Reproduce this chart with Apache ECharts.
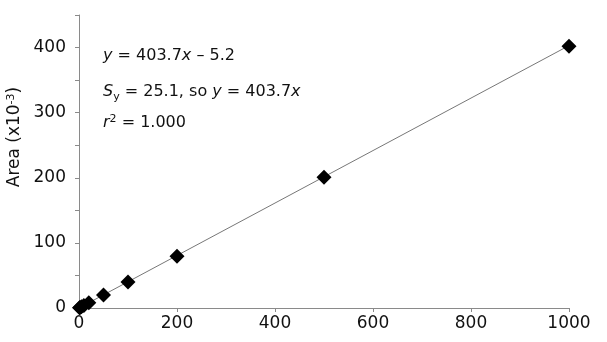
<!DOCTYPE html>
<html>
<head>
<meta charset="utf-8">
<script src="https://cdn.jsdelivr.net/npm/echarts@6/dist/echarts.min.js"></script>
<style>html,body{margin:0;padding:0;background:#fff}#c{width:607px;height:342px}</style>
</head>
<body>
<div id="c"></div>
<script>
var xValues = [1, 2, 5, 10, 20, 50, 100, 200, 500, 1000];
var yValues = [0.4, 0.8, 2, 4, 8, 20, 40, 79.5, 201, 402];
var fitLine = [[0, 0], [1000, 403]];
var xTicks = [0, 200, 400, 600, 800, 1000];
var yTicks = [0, 100, 200, 300, 400];

var FONT = 'DejaVu Sans';
var chart = echarts.init(document.getElementById('c'));
var pts = xValues.map(function (x, i) { return [x, yValues[i]]; });
chart.setOption({
  animation: false,
  backgroundColor: '#fff',
  grid: { left: 79, right: 38, top: 15, bottom: 34, containLabel: false },
  xAxis: {
    type: 'value', min: 0, max: 1000, interval: 200,
    axisLine: { show: true, lineStyle: { color: '#8a8a8a', width: 1 } },
    axisTick: { show: true, length: 4, inside: false, lineStyle: { color: '#8a8a8a' } },
    splitLine: { show: false },
    axisLabel: { color: '#111', fontFamily: FONT, fontSize: 17, margin: 7,
      formatter: function (v) { return xTicks.indexOf(v) >= 0 ? String(v) : ''; } }
  },
  yAxis: {
    type: 'value', min: 0, max: 450, interval: 50,
    axisLine: { show: true, lineStyle: { color: '#8a8a8a', width: 1 } },
    axisTick: { show: true, length: 4, lineStyle: { color: '#8a8a8a' } },
    splitLine: { show: false },
    axisLabel: { color: '#111', fontFamily: FONT, fontSize: 17, margin: 13,
      formatter: function (v) { return yTicks.indexOf(v) >= 0 ? String(v) : ''; } }
  },
  series: [
    { type: 'line', data: fitLine, showSymbol: false, symbol: 'none',
      lineStyle: { color: '#777', width: 1 }, z: 1 },
    { type: 'scatter', data: pts, symbol: 'diamond', symbolSize: 15,
      itemStyle: { color: '#000', opacity: 1 }, z: 2 }
  ],
  graphic: [
    { type: 'text', x: 15, y: 137, rotation: Math.PI / 2,
      style: { text: '{a|Area (x10}{s|-3}{a|)}', align: 'center', verticalAlign: 'middle',
        rich: { a: { fontFamily: FONT, fontSize: 17, fill: '#111' },
                s: { fontFamily: FONT, fontSize: 11, fill: '#111', verticalAlign: 'top', padding: [0, 0, 7, 0] } } } },
    { type: 'text', x: 103, y: 56,
      style: { text: '{i|y} = 403.7{i|x} \u2013 5.2', verticalAlign: 'middle', fontFamily: FONT, fontSize: 16, fill: '#111',
        rich: { i: { fontFamily: FONT, fontSize: 16, fontStyle: 'italic', fill: '#111' } } } },
    { type: 'text', x: 103, y: 92,
      style: { text: '{i|S}{sub|y} = 25.1, so {i|y} = 403.7{i|x}', verticalAlign: 'middle', fontFamily: FONT, fontSize: 16, fill: '#111',
        rich: { i: { fontFamily: FONT, fontSize: 16, fontStyle: 'italic', fill: '#111' },
                sub: { fontFamily: FONT, fontSize: 11, fill: '#111', padding: [10, 0, 0, 0] } } } },
    { type: 'text', x: 103, y: 123,
      style: { text: '{i|r}{sup|2} = 1.000', verticalAlign: 'middle', fontFamily: FONT, fontSize: 16, fill: '#111',
        rich: { i: { fontFamily: FONT, fontSize: 16, fontStyle: 'italic', fill: '#111' },
                sup: { fontFamily: FONT, fontSize: 11, fill: '#111', padding: [0, 0, 8, 0] } } } }
  ]
});
</script>
</body>
</html>
